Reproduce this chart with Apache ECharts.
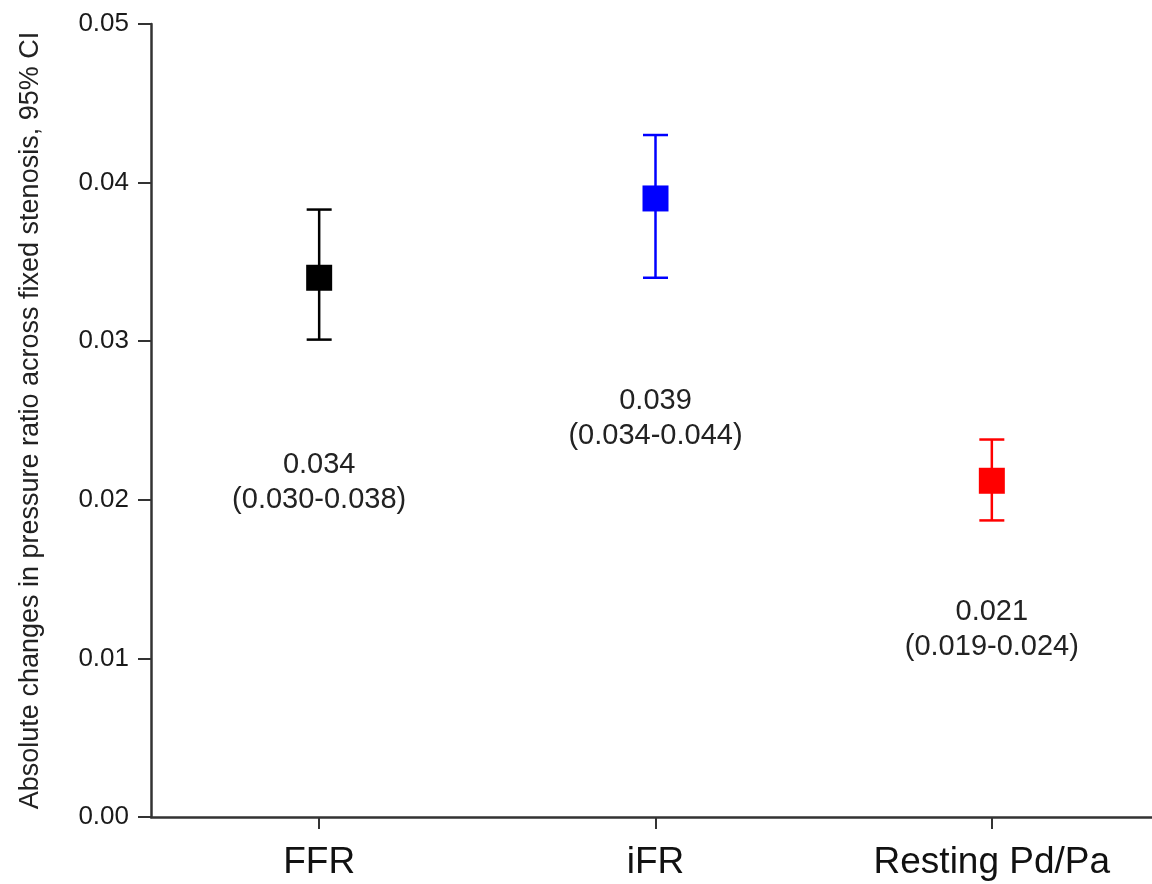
<!DOCTYPE html>
<html>
<head>
<meta charset="utf-8">
<script src="https://cdn.jsdelivr.net/npm/echarts@6/dist/echarts.min.js"></script>
<style>
html,body{margin:0;padding:0;background:#fff;}
#chart{width:1152px;height:884px;}
</style>
</head>
<body>
<div id="chart"></div>
<script>
const categories = ['FFR', 'iFR', 'Resting Pd/Pa'];
const means = [0.0340, 0.0390, 0.0212];
const lowerCI = [0.0301, 0.0340, 0.0187];
const upperCI = [0.0383, 0.0430, 0.0238];
const colors = ['#000000', '#0000ff', '#ff0000'];
const meanLabels = ['0.034', '0.039', '0.021'];
const ciLabels = ['(0.030-0.038)', '(0.034-0.044)', '(0.019-0.024)'];
const annotationY = [0.0211, 0.0251, 0.0118];
const yTicks = [0, 0.01, 0.02, 0.03, 0.04, 0.05];

const FONT = '"Liberation Sans", Arial, Helvetica, sans-serif';
const chart = echarts.init(document.getElementById('chart'), null, {renderer: 'canvas'});

const errData = categories.map((c, i) => [i, lowerCI[i], upperCI[i]]);
const meanData = categories.map((c, i) => ({value: [i, means[i]], itemStyle: {color: colors[i], opacity: 1}}));
const annData = categories.map((c, i) => [i, annotationY[i]]);

chart.setOption({
  animation: false,
  backgroundColor: '#ffffff',
  grid: {left: 151, right: -8, top: 24, bottom: 67, containLabel: false, outerBoundsMode: 'none'},
  xAxis: {
    type: 'category',
    data: categories,
    boundaryGap: true,
    axisLine: {show: true, lineStyle: {color: '#333', width: 2.5}},
    axisTick: {show: true, alignWithLabel: true, length: 12, lineStyle: {color: '#333', width: 2}},
    axisLabel: {fontSize: 37, color: '#111', fontFamily: FONT, margin: 27},
    splitLine: {show: false}
  },
  yAxis: {
    type: 'value',
    min: 0, max: 0.05, interval: 0.01,
    name: 'Absolute changes in pressure ratio across fixed stenosis, 95% CI',
    nameLocation: 'middle',
    nameGap: 107,
    nameRotate: 90,
    nameTextStyle: {fontSize: 27, color: '#222', fontFamily: FONT},
    axisLine: {show: true, lineStyle: {color: '#333', width: 2.5}},
    axisTick: {show: true, length: 13, lineStyle: {color: '#333', width: 2}},
    axisLabel: {fontSize: 26, color: '#1a1a1a', fontFamily: FONT, margin: 22,
      formatter: v => yTicks.some(t => Math.abs(t - v) < 1e-9) ? v.toFixed(2) : ''},
    splitLine: {show: false}
  },
  series: [
    {
      type: 'custom',
      data: errData,
      z: 2,
      renderItem: function (params, api) {
        const i = params.dataIndex;
        const lo = api.coord([api.value(0), api.value(1)]);
        const hi = api.coord([api.value(0), api.value(2)]);
        const hw = 12.5;
        const st = {stroke: colors[i], lineWidth: 2.5};
        return {
          type: 'group',
          children: [
            {type: 'line', shape: {x1: lo[0], y1: lo[1], x2: hi[0], y2: hi[1]}, style: st},
            {type: 'line', shape: {x1: lo[0] - hw, y1: lo[1], x2: lo[0] + hw, y2: lo[1]}, style: st},
            {type: 'line', shape: {x1: hi[0] - hw, y1: hi[1], x2: hi[0] + hw, y2: hi[1]}, style: st}
          ]
        };
      }
    },
    {
      type: 'scatter',
      data: meanData,
      symbol: 'rect',
      symbolSize: 26,
      itemStyle: {opacity: 1},
      z: 3
    },
    {
      type: 'custom',
      data: annData,
      z: 4,
      renderItem: function (params, api) {
        const i = params.dataIndex;
        const p = api.coord([api.value(0), api.value(1)]);
        return {
          type: 'text',
          x: p[0], y: p[1],
          style: {
            text: meanLabels[i] + '\n' + ciLabels[i],
            fill: '#222',
            font: '29px ' + FONT,
            lineHeight: 35,
            align: 'center',
            verticalAlign: 'middle'
          }
        };
      }
    }
  ]
});
</script>
</body>
</html>
